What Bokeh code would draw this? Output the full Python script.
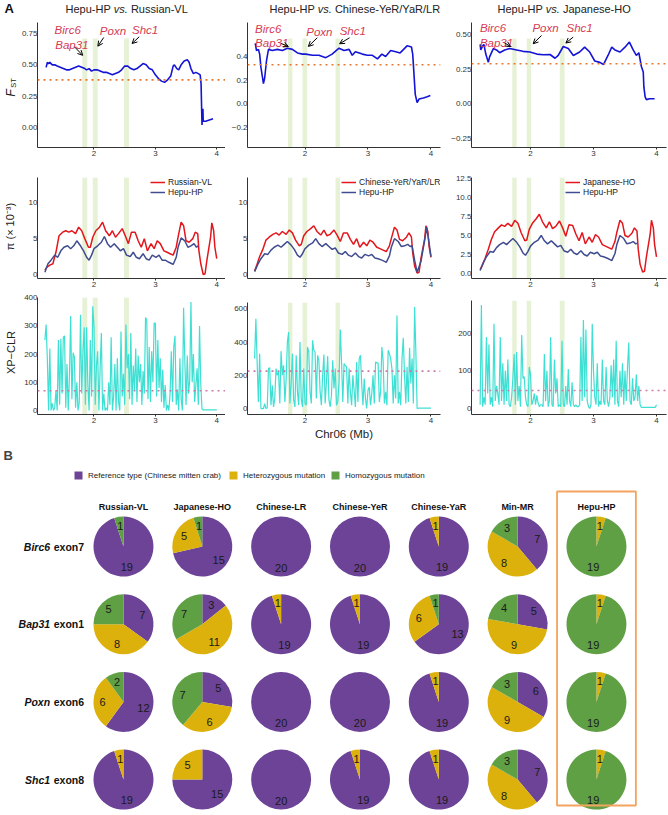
import math
from bokeh.plotting import figure
from bokeh.layouts import column, row
from bokeh.models import (Range1d, FixedTicker, CustomJSTickFormatter, BoxAnnotation, Span,
                          Label, Arrow, OpenHead, Legend, LegendItem)
from bokeh.embed import file_html
from bokeh.resources import INLINE
from bokeh.core.properties import value

FONT = "Liberation Sans"

# ---------------- Panel A data ----------------
comparisons = ["Russian-VL", "Chinese-YeR/YaR/LR", "Japanese-HO"]
chrom_ticks = [2, 3, 4]

fst1_x = [1.22,1.24,1.26,1.28,1.32,1.36,1.40,1.45,1.50,1.55,1.60,1.65,1.70,1.75,1.80,1.85,1.88,1.92,1.96,2.00,
          2.05,2.10,2.15,2.20,2.25,2.30,2.35,2.40,2.45,2.50,2.55,2.60,2.65,2.70,2.75,2.80,2.85,2.90,2.95,3.00,
          3.05,3.10,3.15,3.20,3.25,3.29,3.31,3.35,3.38,3.42,3.47,3.52,3.55,3.58,3.62,3.66,3.70,3.73,3.745,3.76,
          3.775,3.78,3.82,3.88,3.94]
fst1_y = [0.48,0.52,0.51,0.52,0.50,0.50,0.49,0.48,0.47,0.46,0.46,0.47,0.48,0.49,0.48,0.47,0.46,0.47,0.45,0.46,
          0.46,0.45,0.44,0.44,0.43,0.42,0.43,0.44,0.46,0.49,0.49,0.47,0.46,0.47,0.49,0.51,0.50,0.47,0.46,0.42,
          0.39,0.37,0.36,0.38,0.41,0.49,0.50,0.47,0.46,0.50,0.53,0.54,0.52,0.47,0.43,0.44,0.43,0.42,0.35,0.02,
          0.15,0.05,0.05,0.06,0.07]
fst2_x = [1.21,1.23,1.26,1.28,1.30,1.32,1.34,1.36,1.39,1.42,1.48,1.56,1.64,1.72,1.80,1.88,1.96,2.01,2.12,2.22,
          2.33,2.43,2.54,2.62,2.70,2.75,2.80,2.91,2.99,3.07,3.15,3.22,3.28,3.36,3.44,3.51,3.62,3.69,3.71,3.75,
          3.78,3.81,3.88,3.94,3.99]
fst2_y = [0.51,0.45,0.46,0.42,0.31,0.24,0.17,0.22,0.37,0.46,0.45,0.46,0.45,0.47,0.46,0.43,0.42,0.42,0.41,0.41,
          0.39,0.42,0.47,0.45,0.46,0.41,0.44,0.42,0.41,0.41,0.38,0.42,0.40,0.45,0.44,0.43,0.49,0.48,0.42,0.08,
          0.01,0.04,0.05,0.06,0.07]
fst3_x = [1.20,1.21,1.24,1.26,1.29,1.33,1.35,1.41,1.46,1.51,1.59,1.67,1.78,1.88,1.99,2.10,2.20,2.31,2.39,2.44,
          2.52,2.60,2.68,2.78,2.86,2.94,3.02,3.10,3.16,3.23,3.29,3.34,3.42,3.50,3.57,3.63,3.68,3.72,3.76,3.79,
          3.80,3.82,3.84,3.89,3.97]
fst3_y = [0.43,0.39,0.42,0.43,0.36,0.30,0.34,0.40,0.39,0.37,0.39,0.40,0.39,0.38,0.375,0.36,0.355,0.357,0.33,0.35,
          0.415,0.40,0.35,0.375,0.41,0.375,0.31,0.30,0.285,0.35,0.41,0.39,0.375,0.41,0.447,0.39,0.35,0.37,0.27,0.23,
          0.12,0.05,0.03,0.036,0.036]
fst_threshold = [0.38, 0.33, 0.29]

pi_red_x = [1.20,1.23,1.28,1.33,1.38,1.43,1.49,1.54,1.59,1.64,1.70,1.75,1.80,1.85,1.91,1.94,1.98,2.03,2.09,2.14,
            2.19,2.25,2.30,2.35,2.40,2.46,2.51,2.56,2.61,2.67,2.72,2.77,2.82,2.87,2.93,2.98,3.03,3.08,3.14,3.19,
            3.24,3.29,3.34,3.37,3.42,3.46,3.50,3.55,3.61,3.65,3.69,3.71,3.74,3.78,3.81,3.84,3.90,3.92,3.95,3.97,4.00]
pi1_red_y = [0.6,1.0,1.3,1.5,3.1,5.4,5.9,6.1,5.9,6.1,5.7,6.6,6.1,5.0,3.8,3.8,5.2,6.1,6.6,7.3,
             6.1,5.4,6.1,5.2,5.7,6.4,5.4,4.3,5.9,5.9,4.7,3.8,5.0,3.3,4.3,3.6,4.7,4.3,3.3,3.1,
             2.9,2.7,3.8,5.2,7.3,6.8,4.7,4.5,5.0,5.9,5.7,3.3,1.5,0.0,0.1,2.0,5.2,7.2,6.1,3.8,2.2]
pi_blue_x = [1.20,1.25,1.30,1.36,1.41,1.46,1.51,1.57,1.62,1.67,1.72,1.78,1.83,1.88,1.92,1.96,2.00,2.06,2.12,2.17,
             2.22,2.27,2.33,2.38,2.43,2.48,2.53,2.59,2.64,2.69,2.74,2.80,2.85,2.90,2.95,3.01,3.06,3.11,3.16,3.22,
             3.27,3.29,3.34,3.37,3.42,3.48,3.53,3.58,3.63,3.67,3.70]
pi1_blue_y = [0.3,1.5,2.0,2.7,2.4,3.3,3.8,4.0,3.6,4.0,4.7,4.0,3.3,2.4,2.0,2.7,3.6,4.0,4.5,5.3,
              4.3,3.8,4.3,3.8,3.3,3.6,2.7,2.5,3.1,2.4,2.2,2.9,2.2,2.0,2.7,2.4,2.7,2.0,2.0,1.7,
              1.5,1.4,2.4,3.8,5.1,4.7,3.8,4.0,4.3,3.8,4.0]
pi2_red_y = [0.5,1.2,2.5,3.5,4.8,5.2,5.6,5.8,5.5,6.0,5.6,6.2,5.8,4.8,4.0,4.2,5.4,6.0,6.4,6.8,
             6.0,5.5,6.2,5.4,5.6,6.2,5.5,4.6,5.8,5.8,4.9,4.2,5.0,3.8,4.5,4.0,4.8,4.5,3.8,3.6,
             3.4,3.2,4.0,5.0,6.6,6.2,4.9,4.7,5.2,5.8,5.2,3.0,1.2,0.2,0.3,2.2,5.0,6.8,6.0,3.9,2.4]
pi2_blue_x = pi_blue_x + [3.74, 3.78, 3.84, 3.90, 3.93, 3.96, 4.00]
pi2_blue_y = [0.4,1.4,2.2,2.9,2.8,3.4,3.8,4.1,3.8,4.2,4.6,4.1,3.5,2.7,2.4,2.9,3.6,4.1,4.4,5.0,
              4.3,3.9,4.3,3.9,3.5,3.7,3.0,2.8,3.2,2.7,2.5,3.0,2.5,2.3,2.8,2.6,2.8,2.3,2.2,2.0,
              1.8,1.7,2.6,3.8,5.0,4.6,3.9,4.0,4.2,3.9,4.0,
              2.0,0.3,1.8,4.8,6.6,5.0,2.5]
pi3_red_y = [0.5,1.0,2.0,3.2,4.5,5.5,6.0,6.4,6.2,6.6,6.2,7.0,6.6,5.4,4.3,4.4,5.8,6.6,7.2,7.8,
             6.8,6.0,6.8,5.9,6.2,6.9,6.0,4.9,6.4,6.3,5.2,4.3,5.4,3.9,4.8,4.1,5.1,4.8,3.8,3.6,
             3.4,3.2,4.2,5.4,7.0,6.6,5.0,4.8,5.3,6.0,5.6,3.2,1.2,0.2,0.3,2.2,5.2,7.0,6.0,3.8,2.2]
pi3_blue_y = [0.4,1.4,2.2,2.9,2.8,3.4,3.8,4.1,3.8,4.2,4.6,4.1,3.5,2.7,2.4,2.9,3.6,4.1,4.4,5.0,
              4.3,3.9,4.3,3.9,3.5,3.7,3.0,2.8,3.2,2.7,2.5,3.0,2.5,2.3,2.8,2.6,2.8,2.3,2.2,2.0,
              1.8,1.7,2.6,3.8,5.0,4.6,3.9,4.0,4.2,3.9,4.0]

xp_start, xp_step = 1.20, 0.02
xp1 = [250,305,180,0,220,0,25,0,10,70,0,250,20,255,60,260,265,10,165,0,
       120,335,40,205,190,10,100,0,30,340,60,210,295,20,295,90,0,250,50,370,
       300,20,160,210,0,150,275,0,60,0,10,0,100,20,260,0,50,165,0,185,
       30,0,280,50,130,20,305,150,200,40,275,20,160,70,220,30,195,100,165,20,
       140,60,330,320,40,225,30,210,100,310,310,50,250,80,185,30,145,10,90,0,
       20,0,60,210,30,225,265,20,75,0,185,40,0,365,180,20,195,60,110,385,
       100,200,30,90,150,20,300,95,5,2,2,2,2,2,2,2,2,2,2,2,3]
xp2 = [300,540,280,40,330,0,0,0,30,0,5,240,245,20,140,10,60,240,200,220,
       30,345,200,260,40,170,400,460,30,150,330,50,10,320,100,20,400,60,10,240,
       30,20,370,340,100,30,410,350,340,60,320,290,100,20,200,325,30,160,315,50,
       10,80,290,120,240,20,40,160,475,280,40,270,260,250,30,240,100,20,200,110,
       10,280,40,300,320,150,20,180,60,0,110,130,20,90,200,30,280,275,275,40,
       100,370,290,30,100,20,350,330,300,240,30,200,60,560,30,100,20,300,425,200,
       30,250,40,365,150,300,30,610,340,0,2,2,2,2,2,2,2,2,2,2,2]
xp3 = [10,275,5,30,10,190,40,170,10,30,5,225,20,60,40,10,190,20,120,10,
       100,20,130,10,5,30,80,145,10,150,20,60,5,195,80,85,30,10,5,110,
       90,10,20,40,10,35,15,5,10,10,5,145,20,100,5,20,190,10,5,130,
       40,80,5,10,5,180,10,5,60,10,105,20,5,70,10,5,10,5,5,10,
       190,20,235,30,210,20,5,0,10,225,100,30,10,120,5,20,10,130,20,10,
       110,20,5,30,115,30,130,10,180,20,5,100,30,120,10,100,20,110,175,20,
       10,80,20,30,90,20,60,10,3,3,3,3,3,3,3,3,3,3,3,3,10]
xp_threshold = [70, 225, 48]

bands = [[(1.81, 1.89), (1.98, 2.06), (2.49, 2.57)],
         [(1.73, 1.80), (1.96, 2.035), (2.485, 2.555)],
         [(1.71, 1.78), (1.94, 2.01), (2.465, 2.54)]]
band_top_fst = [0.71, 0.552, 0.473]

genes = ["Birc6", "Bap31", "Poxn", "Shc1"]
exons = ["exon7", "exon1", "exon6", "exon8"]

# ---------------- Panel B data ----------------
populations = ["Russian-VL", "Japanese-HO", "Chinese-LR", "Chinese-YeR", "Chinese-YaR", "Min-MR", "Hepu-HP"]
genotype_names = ["Reference type (Chinese mitten crab)", "Heterozygous mutation", "Homozygous mutation"]
reference_counts = [[19, 15, 20, 20, 19, 7, 0],
                    [7, 3, 19, 19, 13, 5, 0],
                    [12, 5, 20, 20, 19, 6, 0],
                    [19, 15, 20, 19, 19, 7, 0]]
heterozygous_counts = [[0, 5, 0, 0, 1, 8, 1],
                       [8, 11, 1, 1, 6, 9, 1],
                       [6, 6, 0, 0, 1, 9, 1],
                       [1, 5, 0, 1, 1, 8, 1]]
homozygous_counts = [[1, 1, 0, 0, 0, 3, 19],
                     [5, 7, 0, 0, 1, 4, 19],
                     [2, 7, 0, 0, 0, 3, 19],
                     [0, 0, 0, 0, 0, 3, 19]]

# ---------------- styling ----------------
BLUE_FST = "#1414d6"
RED_PI = "#e3161c"
BLUE_PI = "#404c90"
CYAN = "#3fe0d4"
ORANGE_DOT = "#e8762d"
PINK_DOT = "#c97aa8"
BAND = "#e1edcc"
GENE_RED = "#d63a52"
GENO_COLORS = ["#6c4397", "#dcb10b", "#5fa045"]
BOX_ORANGE = "#f4a35e"

TOP = 16    # height of the title strip
SIDE = 18   # width of the y-label strip
cols = [dict(w=225 - SIDE, bl=14, br=0, xr=(1.0794, 4.143)),
        dict(w=218, bl=22, br=3, xr=(1.087, 4.151)),
        dict(w=225, bl=28, br=2, xr=(1.063, 4.159))]
title_left = [65, 269, 497]
fst_yr = [(-0.160, 0.838), (-0.369, 0.687), (-0.317, 0.589)]
fst_ticks = [[0, 0.25, 0.5, 0.75], [-0.2, 0, 0.2, 0.4], [-0.25, 0, 0.25, 0.5]]
fst_dec = [2, 1, 2]
pi_yr = [(-0.56, 13.53), (-0.56, 13.53), (-0.66, 12.63)]
pi_ticks = [[0, 5, 10], [0, 5, 10], [0, 2.5, 5, 7.5, 10, 12.5]]
pi_dec = [0, 0, 1]
xp_yr = [(-14.2, 401), (-35.8, 637.5), (-15.9, 286.9)]
xp_ticks = [[0, 100, 200, 300, 400], [0, 200, 400, 600], [0, 100, 200]]
xp_top = [5, 10, 8]
legend_left = [113, 94, 94]

ann_labels = [
    [("Birc6", 1.358, 0.78), ("Bap31", 1.368, 0.657), ("Poxn", 2.095, 0.77), ("Shc1", 2.62, 0.78)],
    [("Birc6", 1.208, 0.634), ("Bap31", 1.208, 0.518), ("Poxn", 2.02, 0.606), ("Shc1", 2.55, 0.611)],
    [("Birc6", 1.196, 0.548), ("Bap31", 1.196, 0.444), ("Poxn", 2.03, 0.548), ("Shc1", 2.571, 0.548)],
]
ann_arrows = [
    [(1.684, 0.643, 1.816, 0.576), (2.158, 0.718, 2.063, 0.649), (2.737, 0.724, 2.621, 0.670)],
    [(1.62, 0.51, 1.736, 0.484), (2.195, 0.558, 2.053, 0.485), (2.707, 0.558, 2.549, 0.507)],
    [(1.593, 0.440, 1.683, 0.415), (2.175, 0.495, 2.042, 0.435), (2.677, 0.483, 2.561, 0.440)],
]

ARIAL_W = {"H": 722, "e": 556, "p": 556, "u": 556, "-": 333, "P": 667, " ": 278, "v": 500,
           "s": 500, ".": 278, "R": 722, "i": 222, "a": 556, "n": 556, "V": 667, "L": 556,
           "C": 722, "h": 556, "Y": 667, "/": 278, "J": 500, "O": 778, "o": 556}


def text_w(s, size):
    return sum(ARIAL_W.get(ch, 556) for ch in s) * size / 1000.0


def fmt(dec):
    return CustomJSTickFormatter(args=dict(d=dec),
                                 code="return tick.toFixed(d).replace('-', '\u2212');")


def bare(width, height, xr, yr):
    p = figure(width=width, height=height, x_range=Range1d(*xr), y_range=Range1d(*yr),
               output_backend="svg", toolbar_location=None, min_border=0,
               x_axis_location=None, y_axis_location=None)
    p.xgrid.visible = False
    p.ygrid.visible = False
    p.outline_line_color = None
    return p


def base(width, height, xr, yr, bl, br, bt, bb):
    p = figure(width=width, height=height, x_range=Range1d(*xr), y_range=Range1d(*yr),
               output_backend="svg", toolbar_location=None,
               min_border_left=bl, min_border_right=br, min_border_top=bt, min_border_bottom=bb)
    p.xgrid.visible = False
    p.ygrid.visible = False
    p.outline_line_color = None
    for ax in (p.xaxis[0], p.yaxis[0]):
        ax.axis_line_color = "#333333"
        ax.major_tick_line_color = "#333333"
        ax.minor_tick_line_color = None
        ax.major_label_text_font = FONT
        ax.major_label_text_font_size = "8px"
        ax.major_label_text_color = "#333333"
        ax.axis_label_text_font = FONT
        ax.axis_label_text_font_size = "11px"
        ax.axis_label_text_font_style = "normal"
        ax.axis_label_text_color = "#222222"
    p.xaxis.major_tick_out = 2
    p.xaxis.major_tick_in = 0
    p.xaxis.major_label_standoff = 1
    p.xaxis.ticker = FixedTicker(ticks=chrom_ticks)
    p.xaxis.formatter = fmt(0)
    p.yaxis.major_tick_out = 0
    p.yaxis.major_tick_in = 0
    p.yaxis.major_label_standoff = 0
    return p


def add_bands(p, i, top=None):
    for (a, b) in bands[i]:
        p.add_layout(BoxAnnotation(left=a, right=b, top=top, fill_color=BAND, fill_alpha=0.8,
                                   line_color=None, level="underlay"))


# ---- title strip (panel letter and comparison titles) ----
strip = bare(668, TOP, (0, 668), (TOP, 0))
for i in range(3):
    tx = title_left[i]
    for txt, st, gap in [("Hepu-HP", "normal", " "), ("vs.", "italic", " "), (comparisons[i], "normal", "")]:
        strip.text(x=[tx], y=[8], text=[txt], text_font=value(FONT), text_font_size=value("11px"),
                   text_font_style=st, text_color="#222222", text_baseline="middle")
        tx += text_w(txt + gap, 11)
strip.text(x=[4], y=[8], text=["A"], text_font=value(FONT), text_font_size=value("13px"),
           text_font_style="bold", text_color="#111111", text_baseline="middle")

# ---- y-label strip (left of the first column); y is page pixels ----
side = bare(SIDE, 444 - TOP, (0, SIDE), (444, TOP))
side.text(x=[10.5], y=[92.5], text=["F"], angle=math.pi / 2, text_font=value(FONT),
          text_font_size=value("12.5px"), text_font_style="italic", text_color="#222222",
          text_align="center", text_baseline="middle")
side.text(x=[12.5], y=[82.5], text=["ST"], angle=math.pi / 2, text_font=value(FONT),
          text_font_size=value("7.5px"), text_color="#222222",
          text_align="center", text_baseline="middle")
side.text(x=[9.5, 10.5], y=[226, 352], text=["π (× 10⁻³)", "XP−CLR"], angle=math.pi / 2,
          text_font=value(FONT), text_font_size=value("11px"), text_color="#222222",
          text_align="center", text_baseline="middle")

fst_data = [(fst1_x, fst1_y), (fst2_x, fst2_y), (fst3_x, fst3_y)]
pi_data = [(pi_red_x, pi1_red_y, pi_blue_x, pi1_blue_y),
           (pi_red_x, pi2_red_y, pi2_blue_x, pi2_blue_y),
           (pi_red_x, pi3_red_y, pi_blue_x, pi3_blue_y)]
xp_data = [xp1, xp2, xp3]

columns = [side]
for i in range(3):
    c = cols[i]
    # ---- FST ----  frame page y 22..147
    p1 = base(c["w"], 161 - TOP, c["xr"], fst_yr[i], c["bl"], c["br"], 22 - TOP, 14)
    p1.yaxis.ticker = FixedTicker(ticks=fst_ticks[i])
    p1.yaxis.formatter = fmt(fst_dec[i])
    add_bands(p1, i, top=band_top_fst[i])
    p1.line(fst_data[i][0], fst_data[i][1], line_color=BLUE_FST, line_width=1.6)
    p1.add_layout(Span(location=fst_threshold[i], dimension="width", line_color=ORANGE_DOT,
                       line_dash="2 4", line_width=1.6))
    for (t, x, y) in ann_labels[i]:
        p1.add_layout(Label(x=x, y=y, text=t, text_font=FONT, text_font_style="italic",
                            text_font_size="11.5px", text_color=GENE_RED, text_baseline="middle"))
    for (x0, y0, x1, y1) in ann_arrows[i]:
        p1.add_layout(Arrow(x_start=x0, y_start=y0, x_end=x1, y_end=y1, line_width=1,
                            line_color="black",
                            end=OpenHead(size=5, line_width=1, line_color="black")))

    # ---- PI ----  frame page y 177..278
    p2 = base(c["w"], 131, c["xr"], pi_yr[i], c["bl"], c["br"], 16, 14)
    p2.yaxis.ticker = FixedTicker(ticks=pi_ticks[i])
    p2.yaxis.formatter = fmt(pi_dec[i])
    add_bands(p2, i)
    rx, ry, bx, by = pi_data[i]
    p2.line(rx, ry, line_color=RED_PI, line_width=1.5, legend_label=comparisons[i])
    p2.line(bx, by, line_color=BLUE_PI, line_width=1.5, legend_label="Hepu-HP")
    lg = p2.legend[0]
    lg.location = (legend_left[i], 81)
    lg.label_text_font = FONT
    lg.label_text_font_size = "8.5px"
    lg.label_text_color = "#222222"
    lg.glyph_width = 15
    lg.glyph_height = 10
    lg.label_height = 10
    lg.label_standoff = 3
    lg.spacing = 0
    lg.padding = 0
    lg.margin = 0
    lg.border_line_color = None
    lg.background_fill_alpha = 0

    # ---- XP-CLR ----  frame page y ~297..414
    p3 = base(c["w"], 152, c["xr"], xp_yr[i], c["bl"], c["br"], xp_top[i], 30)
    p3.yaxis.ticker = FixedTicker(ticks=xp_ticks[i])
    p3.yaxis.formatter = fmt(0)
    add_bands(p3, i)
    xs = [round(xp_start + xp_step * k, 2) for k in range(len(xp_data[i]))]
    p3.line(xs, xp_data[i], line_color=CYAN, line_width=1.2)
    p3.add_layout(Span(location=xp_threshold[i], dimension="width", line_color=PINK_DOT,
                       line_dash="2 4", line_width=1.6))
    if i == 1:
        p3.xaxis.axis_label = "Chr06 (Mb)"
        p3.xaxis.axis_label_standoff = 2
        p3.xaxis.axis_label_text_font_size = "11.5px"
    columns.append(column(p1, p2, p3, spacing=0))

panelA = column(strip, row(*columns, spacing=0), spacing=0)

# ---------------- Panel B ----------------
XR = (-1.560, 6.914)
YR = (3.462, -1.313)
HB = 371
pb = bare(668, HB, XR, YR)
px_x = 668 / (XR[1] - XR[0])
px_y = HB / (YR[0] - YR[1])
R = 30

count_tables = [reference_counts, heterozygous_counts, homozygous_counts]
wedges = [dict(x=[], y=[], s=[], e=[]) for _ in range(3)]
full = dict(x=[], y=[], c=[])
lx, ly, lt = [], [], []
for g in range(len(genes)):
    for k in range(len(populations)):
        counts = [tab[g][k] for tab in count_tables]
        tot = sum(counts)
        acc = 0.0
        for j, n in enumerate(counts):
            if n == 0:
                continue
            t0 = 2 * math.pi * acc / tot
            t1 = 2 * math.pi * (acc + n) / tot
            acc += n
            if n == tot:
                full["x"].append(k)
                full["y"].append(g)
                full["c"].append(GENO_COLORS[j])
            else:
                wedges[j]["x"].append(k)
                wedges[j]["y"].append(g)
                wedges[j]["s"].append(math.pi / 2 - t1)
                wedges[j]["e"].append(math.pi / 2 - t0)
            tm = (t0 + t1) / 2
            rl = 21
            lx.append(k + rl * math.sin(tm) / px_x)
            ly.append(g - rl * math.cos(tm) / px_y)
            lt.append(str(n))

pb.circle(x=full["x"], y=full["y"], radius=R, radius_units="screen", fill_color=full["c"],
          line_color=None)
wedge_renderers = []
for j in range(3):
    w = wedges[j]
    r = pb.wedge(x=w["x"], y=w["y"], radius=R, radius_units="screen", start_angle=w["s"],
                 end_angle=w["e"], fill_color=GENO_COLORS[j], line_color=None)
    wedge_renderers.append(r)

pb.text(x=lx, y=ly, text=lt, text_font=value(FONT), text_font_size=value("11px"),
        text_align="center", text_baseline="middle", text_color="#1a1a1a")

# headers
pb.text(x=list(range(len(populations))), y=[-0.515] * len(populations), text=populations,
        text_font=value(FONT), text_font_size=value("9px"), text_font_style="bold",
        text_align="center", text_baseline="middle", text_color="#111111")
# row labels
pb.text(x=[-0.5] * len(genes), y=list(range(len(genes))), text=exons,
        text_font=value(FONT), text_font_size=value("10.5px"), text_font_style="bold",
        text_align="right", text_baseline="middle", text_color="#111111")
pb.text(x=[-0.5 - 34 / px_x] * len(genes), y=list(range(len(genes))), text=genes,
        text_font=value(FONT), text_font_size=value("10.5px"), text_font_style="bold italic",
        text_align="right", text_baseline="middle", text_color="#111111")

# highlight box around Hepu-HP
pb.add_layout(BoxAnnotation(left=5.5, right=6.5, top=-0.708, bottom=3.333, fill_alpha=0,
                            line_color=BOX_ORANGE, line_alpha=1.0, line_width=1.8))

# legend: one Legend per genotype so each sits where the reference has it
legend_x = [73, 228, 330]
for j in range(3):
    lgd = Legend(items=[LegendItem(label=genotype_names[j], renderers=[wedge_renderers[j]])],
                 location=(legend_x[j], 335), label_text_font=FONT, label_text_font_size="8px",
                 label_text_color="#222222", glyph_width=10, glyph_height=10, label_height=10,
                 label_standoff=5, padding=0, margin=0, border_line_color=None,
                 background_fill_alpha=0)
    pb.add_layout(lgd)

pb.add_layout(Label(x=3, y=HB - 11, x_units="screen", y_units="screen", text="B",
                    text_font=FONT, text_font_style="bold", text_font_size="13px",
                    text_baseline="middle"))

layout = column(panelA, pb, spacing=0)
open("out.html", "w").write(file_html(layout, INLINE))
